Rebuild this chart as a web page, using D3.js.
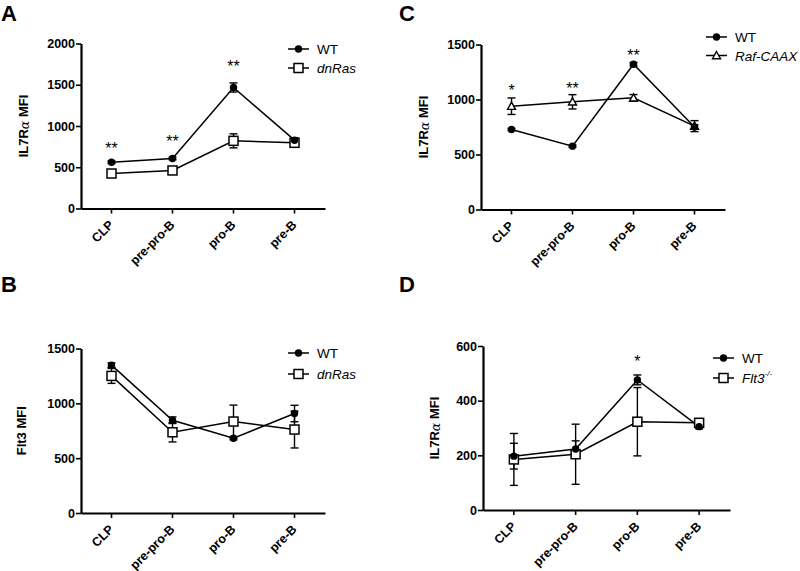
<!DOCTYPE html>
<html>
<head>
<meta charset="utf-8">
<script src="https://cdn.jsdelivr.net/npm/d3@7"></script>
<style>
  html, body { margin: 0; padding: 0; background: #fff; }
  svg { display: block; font-family: "Liberation Sans", Arial, sans-serif; }
</style>
</head>
<body>
<svg id="chart" width="800" height="571"></svg>
<script>
// ---------------- DATA ----------------
const categories = ["CLP", "pre-pro-B", "pro-B", "pre-B"];

// Panel A: IL7Ra MFI, WT vs dnRas
const aWT = [561, 606, 1467, 828];
const aWTerr = [15, 15, 55, 30];
const aDnRas = [424, 461, 820, 796];
const aDnRasErr = [20, 20, 85, 50];
const aTicks = [0, 500, 1000, 1500, 2000];
const aSigLabels = ["**", "**", "**", ""];
const aSigValues = [767, 852, 1761, 0];

// Panel B: Flt3 MFI, WT vs dnRas
const bWT = [1348, 846, 682, 907];
const bWTerr = [20, 30, 15, 75];
const bDnRas = [1250, 736, 834, 761];
const bDnRasErr = [68, 88, 150, 168];
const bTicks = [0, 500, 1000, 1500];

// Panel C: IL7Ra MFI, WT vs Raf-CAAX
const cWT = [727, 576, 1321, 750];
const cWTerr = [10, 10, 15, 20];
const cRaf = [939, 979, 1015, 758];
const cRafErr = [75, 65, 30, 50];
const cTicks = [0, 500, 1000, 1500];
const cSigLabels = ["*", "**", "**", ""];
const cSigValues = [1112, 1130, 1430, 0];

// Panel D: IL7Ra MFI, WT vs Flt3-/-
const dWT = [197, 223, 476, 305];
const dWTerr = [47, 30, 18, 8];
const dFlt3 = [185, 204, 323, 319];
const dFlt3Err = [95, 110, 125, 10];
const dTicks = [0, 200, 400, 600];
const dSigLabels = ["", "", "*", ""];
const dSigValues = [0, 0, 556, 0];

// ---------------- LAYOUT ----------------
const svg = d3.select("#chart");
const FONT = '"Liberation Sans", Arial, sans-serif';

const panels = [
  { letter: "A", lx: 1, ly: 21, x0: 81, right: 325, top: 43.5, bottom: 208.5,
    ticks: aTicks, ylabel: "IL7R", ylabelSuffix: " MFI", alpha: true, labelX: 25,
    series: [
      { name: "WT", italic: false, vals: aWT, errs: aWTerr, marker: "circle" },
      { name: "dnRas", italic: true, vals: aDnRas, errs: aDnRasErr, marker: "square" }
    ],
    sig: { labels: aSigLabels, values: aSigValues },
    legend: { x: 288, y: 49, dy: 19 } },
  { letter: "B", lx: 1, ly: 292, x0: 81, right: 325, top: 348.5, bottom: 513,
    ticks: bTicks, ylabel: "Flt3 MFI", ylabelSuffix: "", alpha: false, labelX: 23,
    series: [
      { name: "WT", italic: false, vals: bWT, errs: bWTerr, marker: "circle" },
      { name: "dnRas", italic: true, vals: bDnRas, errs: bDnRasErr, marker: "square" }
    ],
    sig: null,
    legend: { x: 288, y: 353, dy: 21 } },
  { letter: "C", lx: 399, ly: 21, x0: 481, right: 725, top: 44.5, bottom: 209.5,
    ticks: cTicks, ylabel: "IL7R", ylabelSuffix: " MFI", alpha: true, labelX: 425,
    series: [
      { name: "WT", italic: false, vals: cWT, errs: cWTerr, marker: "circle" },
      { name: "Raf-CAAX", italic: true, vals: cRaf, errs: cRafErr, marker: "triangle" }
    ],
    sig: { labels: cSigLabels, values: cSigValues },
    legend: { x: 706, y: 37, dy: 18.5 } },
  { letter: "D", lx: 399, ly: 292, x0: 483, right: 730, top: 346, bottom: 510,
    ticks: dTicks, ylabel: "IL7R", ylabelSuffix: " MFI", alpha: true, labelX: 436,
    series: [
      { name: "WT", italic: false, vals: dWT, errs: dWTerr, marker: "circle" },
      { name: "Flt3", sup: "-/-", italic: true, vals: dFlt3, errs: dFlt3Err, marker: "square" }
    ],
    sig: { labels: dSigLabels, values: dSigValues },
    legend: { x: 713, y: 358, dy: 20 } }
];

function drawMarker(g, type, cx, cy) {
  if (type === "circle") {
    g.append("circle").attr("cx", cx).attr("cy", cy).attr("r", 3.7).attr("fill", "#000");
  } else if (type === "square") {
    g.append("rect").attr("x", cx - 4.5).attr("y", cy - 4.5).attr("width", 9).attr("height", 9)
      .attr("fill", "#fff").attr("stroke", "#000").attr("stroke-width", 1.5);
  } else if (type === "triangle") {
    const s = 4;
    g.append("path")
      .attr("d", `M${cx},${cy - s} L${cx + s},${cy + s * 0.8} L${cx - s},${cy + s * 0.8} Z`)
      .attr("fill", "#fff").attr("stroke", "#000").attr("stroke-width", 1.4);
  }
}

panels.forEach(p => {
  const g = svg.append("g");

  // panel letter
  g.append("text").attr("x", p.lx).attr("y", p.ly)
    .attr("font-size", 22).attr("font-weight", "bold").attr("font-family", FONT)
    .text(p.letter);

  const maxV = p.ticks[p.ticks.length - 1];
  const x = d3.scaleBand().domain(categories).range([p.x0, p.right]).padding(0);
  const cx = c => x(c) + x.bandwidth() / 2;
  const y = d3.scaleLinear().domain([0, maxV]).range([p.bottom, p.top]);

  // y axis
  const yAxis = g.append("g").attr("transform", `translate(${p.x0},0)`)
    .call(d3.axisLeft(y).tickValues(p.ticks).tickFormat(d3.format("d")).tickSize(5).tickSizeOuter(0).tickPadding(1));
  yAxis.select(".domain").attr("stroke-width", 2.2);
  yAxis.selectAll(".tick line").attr("stroke-width", 1.6);
  yAxis.selectAll(".tick text").attr("font-size", 12.5).attr("font-weight", "bold")
    .attr("font-family", FONT).attr("fill", "#000");

  // x axis
  const xAxis = g.append("g").attr("transform", `translate(0,${p.bottom})`)
    .call(d3.axisBottom(x).tickSize(5).tickSizeOuter(0));
  xAxis.select(".domain").attr("stroke-width", 2.2);
  xAxis.selectAll(".tick line").attr("stroke-width", 1.6);
  xAxis.selectAll(".tick text")
    .attr("font-size", 12.5).attr("font-weight", "bold").attr("font-family", FONT).attr("fill", "#000")
    .attr("text-anchor", "end")
    .attr("x", 0).attr("y", 0).attr("dy", 0)
    .attr("transform", "translate(3,17) rotate(-45)");

  // y label
  const midY = (p.top + p.bottom) / 2;
  const yl = g.append("text")
    .attr("transform", `translate(${p.labelX},${midY}) rotate(-90)`)
    .attr("text-anchor", "middle").attr("dominant-baseline", "middle")
    .attr("font-size", 13).attr("font-weight", "bold").attr("font-family", FONT);
  yl.append("tspan").text(p.ylabel);
  if (p.alpha) {
    yl.append("tspan").attr("font-weight", "normal").attr("font-family", '"DejaVu Serif", serif')
      .attr("font-style", "italic").attr("font-size", 12.5).text("α");
  }
  if (p.ylabelSuffix) yl.append("tspan").text(p.ylabelSuffix);

  // error bars
  p.series.forEach(s => {
    categories.forEach((c, i) => {
      const v = s.vals[i], e = s.errs[i];
      const x0 = cx(c), y1 = y(v + e), y2 = y(v - e);
      g.append("line").attr("x1", x0).attr("x2", x0).attr("y1", y1).attr("y2", y2)
        .attr("stroke", "#000").attr("stroke-width", 1.4);
      [y1, y2].forEach(yy => g.append("line").attr("x1", x0 - 4).attr("x2", x0 + 4)
        .attr("y1", yy).attr("y2", yy).attr("stroke", "#000").attr("stroke-width", 1.4));
    });
  });

  // lines
  const line = d3.line().x((d, i) => cx(categories[i])).y(d => y(d));
  p.series.forEach(s => {
    g.append("path").datum(s.vals).attr("d", line)
      .attr("fill", "none").attr("stroke", "#000").attr("stroke-width", 1.5);
  });

  // markers
  p.series.slice().reverse().forEach(s => {
    categories.forEach((c, i) => drawMarker(g, s.marker, cx(c), y(s.vals[i])));
  });

  // significance asterisks
  if (p.sig) {
    categories.forEach((c, i) => {
      if (!p.sig.labels[i]) return;
      g.append("text").attr("x", cx(c)).attr("y", y(p.sig.values[i]) + 9)
        .attr("text-anchor", "middle").attr("font-size", 16).attr("font-family", FONT)
        .attr("fill", "#000")
        .text(p.sig.labels[i]);
    });
  }

  // legend
  p.series.forEach((s, k) => {
    const ly = p.legend.y + k * p.legend.dy;
    g.append("line").attr("x1", p.legend.x).attr("x2", p.legend.x + 21)
      .attr("y1", ly).attr("y2", ly).attr("stroke", "#000").attr("stroke-width", 1.5);
    drawMarker(g, s.marker, p.legend.x + 10.5, ly);
    const t = g.append("text").attr("x", p.legend.x + 29).attr("y", ly)
      .attr("dominant-baseline", "central").attr("font-size", 13.5).attr("font-family", FONT)
      .attr("font-style", s.italic ? "italic" : "normal");
    t.append("tspan").text(s.name);
    if (s.sup) t.append("tspan").attr("font-size", 8).attr("dy", -5).text(s.sup);
  });
});
</script>
</body>
</html>
